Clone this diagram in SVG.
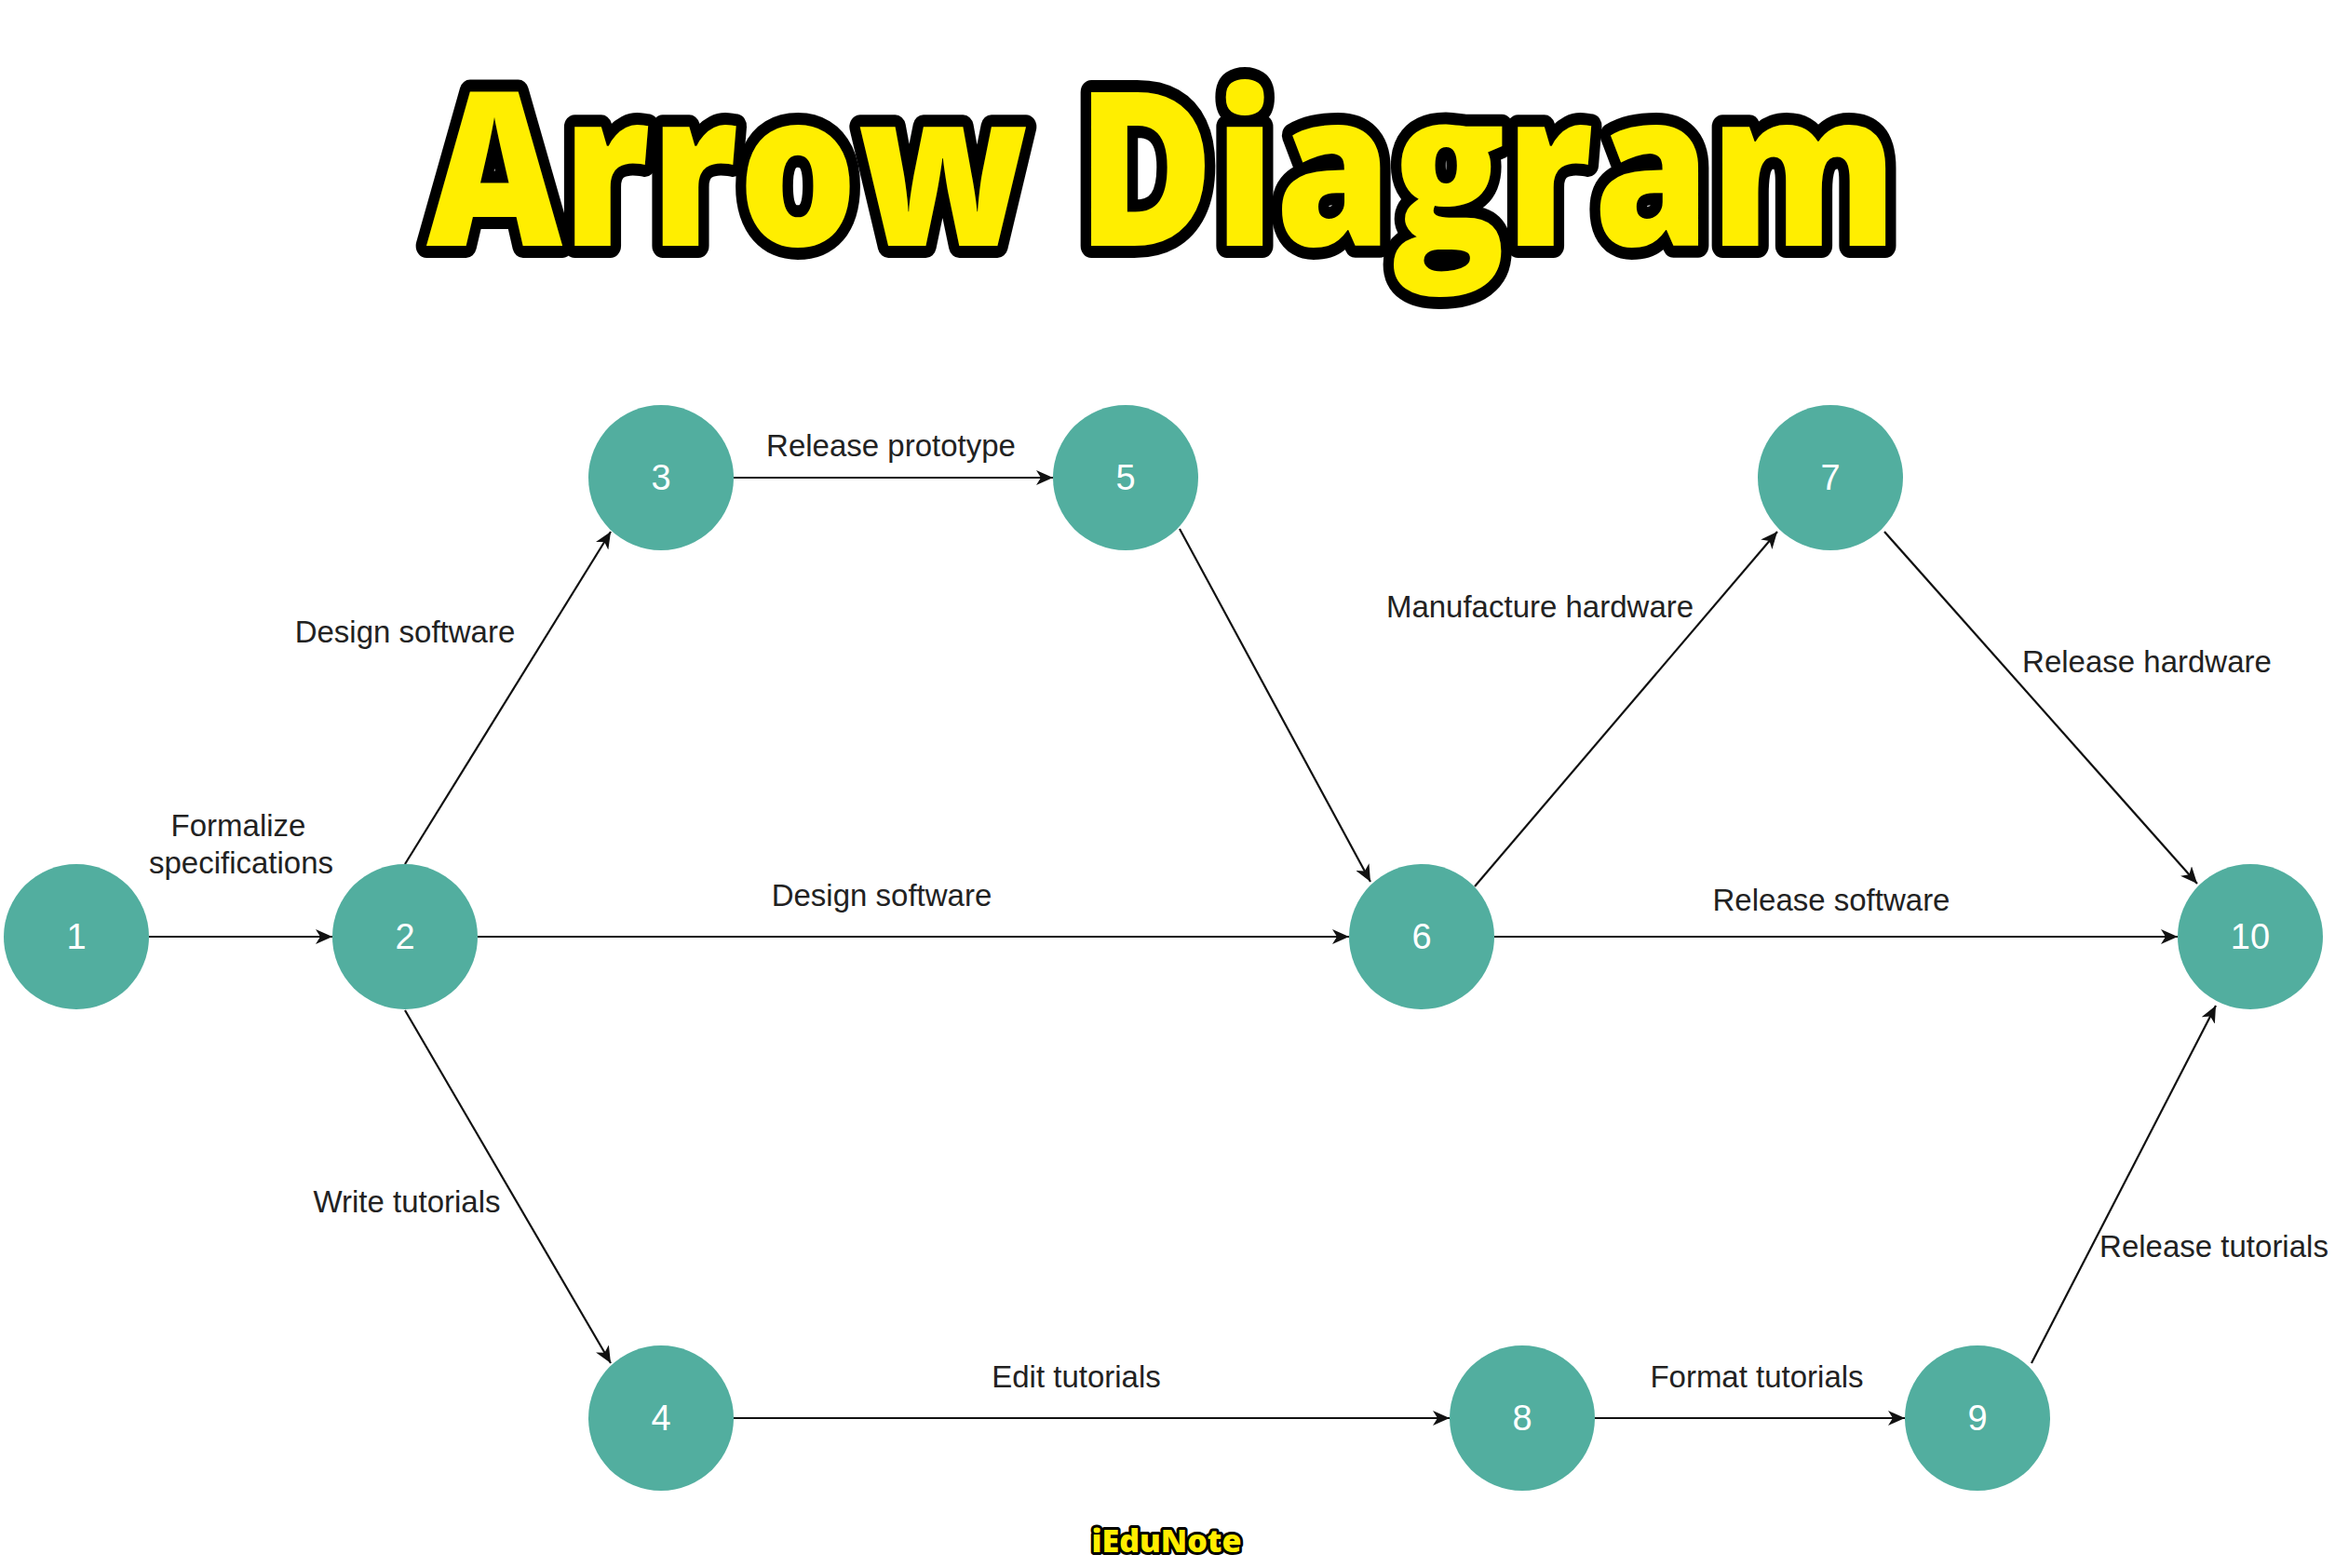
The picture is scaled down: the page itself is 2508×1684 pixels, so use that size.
<svg xmlns="http://www.w3.org/2000/svg" width="2508" height="1684" viewBox="0 0 2508 1684">
<style>
.n circle{fill:#52ae9f}
.n text{fill:#fff;font-family:Arial,"Liberation Sans",sans-serif;font-size:38px;text-anchor:middle;dominant-baseline:central}
.e line{stroke:#111;stroke-width:2.2;marker-end:url(#ah)}
.l{font-family:Arial,"Liberation Sans",sans-serif;font-size:33px;fill:#222;text-anchor:middle}
.t{font-family:"Open Sans","Noto Sans",sans-serif;font-weight:800;fill:#ffee00;stroke:#000;stroke-linejoin:round;paint-order:stroke}
</style>
<defs><marker id="ah" markerUnits="userSpaceOnUse" markerWidth="20" markerHeight="16" refX="18" refY="8" orient="auto"><path d="M0,0 L18,8 L0,16 L5,8 Z" fill="#111"/></marker></defs>
<rect width="2508" height="1684" fill="#fff"/>
<text class="t" x="1248" y="264" font-size="230" stroke-width="26" text-anchor="middle" textLength="1580" lengthAdjust="spacingAndGlyphs">Arrow Diagram</text>
<g id="connectors" class="e">
<line x1="160" y1="1006" x2="357" y2="1006"/>
<line x1="435" y1="928" x2="656" y2="571"/>
<line x1="788" y1="513" x2="1131" y2="513"/>
<line x1="513" y1="1006" x2="1449" y2="1006"/>
<line x1="1267" y1="568" x2="1472" y2="947"/>
<line x1="1584" y1="952" x2="1909" y2="571"/>
<line x1="2024" y1="571" x2="2360" y2="949"/>
<line x1="1605" y1="1006" x2="2339" y2="1006"/>
<line x1="435" y1="1085" x2="656" y2="1464"/>
<line x1="788" y1="1523" x2="1557" y2="1523"/>
<line x1="1713" y1="1523" x2="2046" y2="1523"/>
<line x1="2182" y1="1464" x2="2380" y2="1080"/>
</g>
<g id="labels">
<text class="l" x="957" y="490">Release prototype</text>
<text class="l" x="435" y="690">Design software</text>
<text class="l" x="256" y="898">Formalize</text>
<text class="l" x="259" y="938">specifications</text>
<text class="l" x="947" y="973">Design software</text>
<text class="l" x="1654" y="663">Manufacture hardware</text>
<text class="l" x="2306" y="722">Release hardware</text>
<text class="l" x="1967" y="978">Release software</text>
<text class="l" x="437" y="1302">Write tutorials</text>
<text class="l" x="1156" y="1490">Edit tutorials</text>
<text class="l" x="1887" y="1490">Format tutorials</text>
<text class="l" x="2378" y="1350">Release tutorials</text>
</g>
<g id="n1" class="n"><circle cx="82" cy="1006" r="78"/><text x="82" y="1006">1</text></g>
<g id="n2" class="n"><circle cx="435" cy="1006" r="78"/><text x="435" y="1006">2</text></g>
<g id="n3" class="n"><circle cx="710" cy="513" r="78"/><text x="710" y="513">3</text></g>
<g id="n5" class="n"><circle cx="1209" cy="513" r="78"/><text x="1209" y="513">5</text></g>
<g id="n6" class="n"><circle cx="1527" cy="1006" r="78"/><text x="1527" y="1006">6</text></g>
<g id="n7" class="n"><circle cx="1966" cy="513" r="78"/><text x="1966" y="513">7</text></g>
<g id="n10" class="n"><circle cx="2417" cy="1006" r="78"/><text x="2417" y="1006">10</text></g>
<g id="n4" class="n"><circle cx="710" cy="1523" r="78"/><text x="710" y="1523">4</text></g>
<g id="n8" class="n"><circle cx="1635" cy="1523" r="78"/><text x="1635" y="1523">8</text></g>
<g id="n9" class="n"><circle cx="2124" cy="1523" r="78"/><text x="2124" y="1523">9</text></g>
<text class="t" x="1253" y="1667" font-size="34" stroke-width="6" text-anchor="middle">iEduNote</text>
</svg>
